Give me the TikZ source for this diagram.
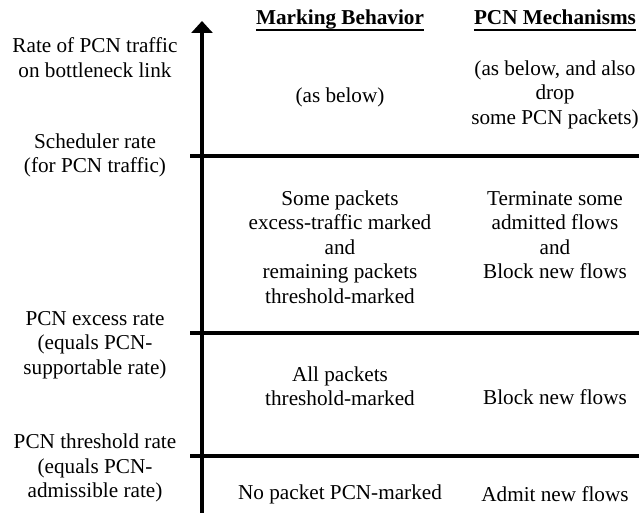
\documentclass[tikz,border=0pt]{standalone}
\usepackage{fontspec}
\setmainfont{Liberation Serif}
\usetikzlibrary{arrows.meta}
\begin{document}
\begin{tikzpicture}[x=1pt,y=-1pt,
  lbl/.style={align=center,font=\fontsize{21.2}{24.5}\selectfont,inner sep=0pt},
  hdr/.style={font=\fontsize{21.2}{24.5}\selectfont\bfseries,inner sep=0pt,anchor=base},
  rulebar/.style={line width=4.5pt},
  ulbar/.style={line width=2pt},
  axisbar/.style={line width=4.3pt,-{Triangle[width=21pt,length=12pt]}}]
\useasboundingbox (0,0) rectangle (639,513);
% axis
\coordinate (abot) at (202,513);
\coordinate (atop) at (202,21);
\draw[axisbar] (abot) -- (atop);
% rules
\foreach \n/\y in {r1/156,r2/333,r3/456}{
  \coordinate (\n a) at (190,\y);
  \coordinate (\n b) at (639,\y);
  \draw[rulebar] (\n a) -- (\n b);
}
% headers
\node[hdr] (h1) at (340,25) {Marking Behavior};
\node[hdr] (h2) at (555,25) {PCN Mechanisms};
\draw[ulbar] ([yshift=-5pt]h1.base west) -- ([yshift=-5pt]h1.base east);
\draw[ulbar] ([yshift=-5pt]h2.base west) -- ([yshift=-5pt]h2.base east);
% left labels
\node[lbl] (l1) at (95,57.5) {Rate of PCN traffic\\on bottleneck link};
\node[lbl] (l2) at (95,155.5) {Scheduler rate\\(for PCN traffic)};
\node[lbl] (l3) at (95,345) {PCN excess rate\\(equals PCN-\\supportable rate)};
\node[lbl] (l4) at (95,468) {PCN threshold rate\\(equals PCN-\\admissible rate)};
% column contents
\node[lbl] (t1) at (340,97) {(as below)};
\node[lbl] (t2) at (555,94.5) {(as below, and also\\drop\\some PCN packets)};
\node[lbl] (m1) at (340,247) {Some packets\\excess-traffic marked\\and\\remaining packets\\threshold-marked};
\node[lbl] (m2) at (555,235) {Terminate some\\admitted flows\\and\\Block new flows};
\node[lbl] (a1) at (340,386) {All packets\\threshold-marked};
\node[lbl] (a2) at (555,397) {Block new flows};
\node[lbl] (n1) at (340,494.5) {No packet PCN-marked};
\node[lbl] (n2) at (555,494) {Admit new flows};
\end{tikzpicture}
\end{document}
